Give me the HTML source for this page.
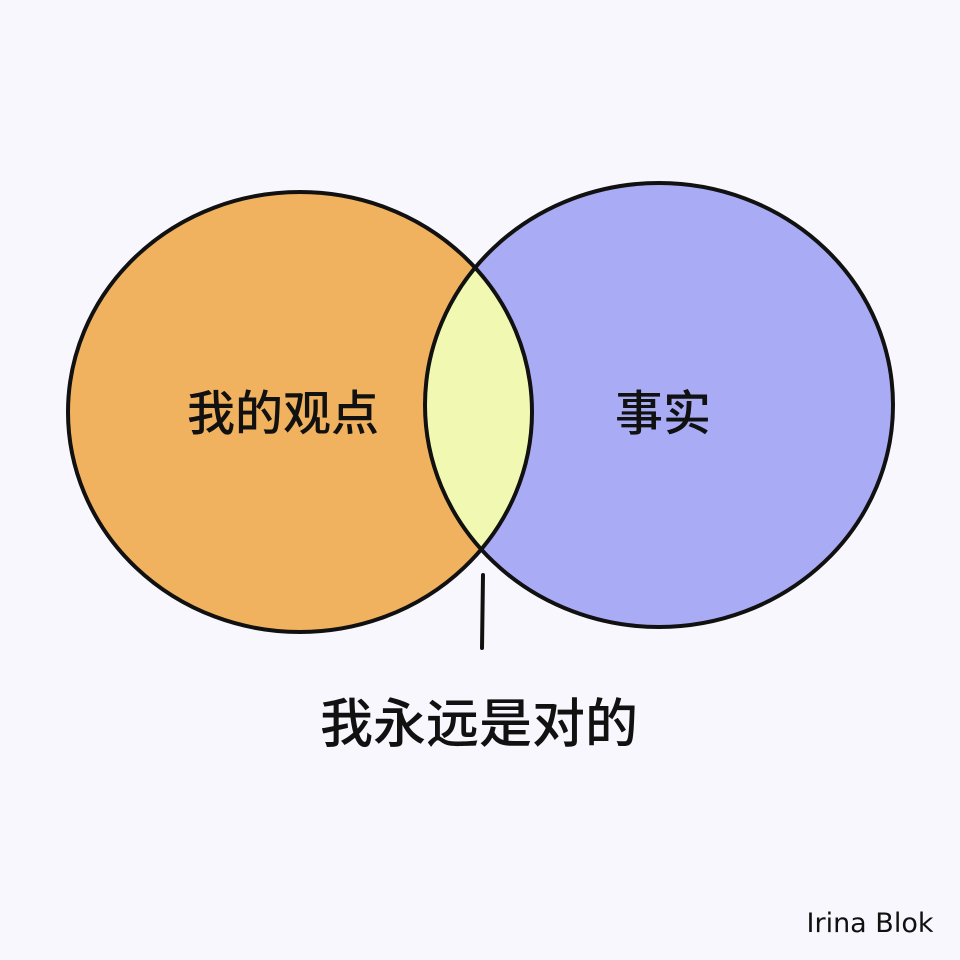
<!DOCTYPE html>
<html><head><meta charset="utf-8"><style>
html,body{margin:0;padding:0;background:#f7f7fd;}
svg{display:block}
</style></head><body>
<svg width="960" height="960" viewBox="0 0 960 960" xmlns="http://www.w3.org/2000/svg">
<defs>
<clipPath id="cl"><ellipse cx="300" cy="412" rx="232" ry="220"/></clipPath>
</defs>
<rect width="960" height="960" fill="#f7f7fd"/>
<ellipse cx="300" cy="412" rx="232" ry="220" fill="#f0b25e"/>
<ellipse cx="659" cy="405" rx="234" ry="222" fill="#a9acf5"/>
<ellipse cx="659" cy="405" rx="234" ry="222" fill="#f1f8b2" clip-path="url(#cl)"/>
<ellipse cx="300" cy="412" rx="232" ry="220" fill="none" stroke="#111" stroke-width="4"/>
<ellipse cx="659" cy="405" rx="234" ry="222" fill="none" stroke="#111" stroke-width="4"/>
<path d="M483 575 L482 648" stroke="#111" stroke-width="4" stroke-linecap="round"/>
<g font-family="'Noto Sans CJK SC','Liberation Sans',sans-serif" fill="#111" text-anchor="middle" font-weight="500">
<text x="283" y="430" font-size="48">我的观点</text>
<text x="663" y="430" font-size="48">事实</text>
<text x="479" y="742" font-size="53">我永远是对的</text>
</g>
<text x="870" y="932" font-family="'DejaVu Sans',sans-serif" font-size="27" fill="#111" text-anchor="middle">Irina Blok</text>
</svg>
</body></html>
